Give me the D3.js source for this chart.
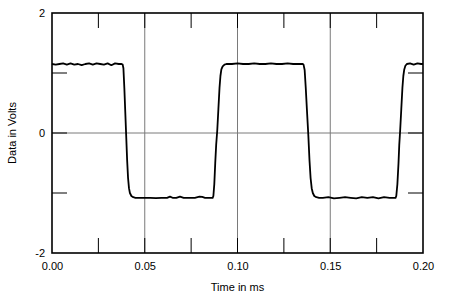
<!DOCTYPE html>
<html>
<head>
<meta charset="utf-8">
<script src="https://cdn.jsdelivr.net/npm/d3@7"></script>
<style>
  body { margin: 0; background: #fff; }
  svg { display: block; font-family: "Liberation Sans", Arial, sans-serif; }
</style>
</head>
<body>
<div id="chart"></div>
<script>
const width = 450;
const height = 305;
const MARGIN = { TOP: 13, RIGHT: 27, BOTTOM: 52, LEFT: 52 };

// tick values
const xMajorTicks = [0, 0.05, 0.10, 0.15, 0.20];
const xMinorTicks = [0.025, 0.075, 0.125, 0.175];
const yLabelTicks = [-2, 0, 2];
const yMinorTicks = [-1, 1];

const timeMs = [
  0, 0.002, 0.004, 0.006, 0.008, 0.010, 0.012, 0.014, 0.016, 0.018,
  0.020, 0.022, 0.024, 0.026, 0.028, 0.030, 0.032, 0.034, 0.036, 0.0375,
  0.0381, 0.0385, 0.0390, 0.0395, 0.0400, 0.0405, 0.0410, 0.0415, 0.0420, 0.0428, 0.0438, 0.0450,
  0.047, 0.050, 0.053, 0.056, 0.059, 0.062, 0.0636, 0.065, 0.067, 0.069,
  0.071, 0.074, 0.077, 0.0795, 0.081, 0.0825, 0.085, 0.0866,
  0.0870, 0.0875, 0.0880, 0.0885, 0.0891, 0.0897, 0.0903, 0.0908, 0.0913, 0.0920, 0.0930, 0.0940,
  0.097, 0.100, 0.103, 0.106, 0.109, 0.112, 0.115, 0.118, 0.121, 0.124, 0.127, 0.130, 0.133, 0.1352,
  0.1356, 0.1362, 0.1368, 0.1374, 0.1382, 0.1388, 0.1394, 0.1400, 0.1406, 0.1414, 0.1425, 0.1440,
  0.146, 0.149, 0.152, 0.155, 0.158, 0.161, 0.164, 0.167, 0.170, 0.173, 0.176, 0.179, 0.182, 0.1852,
  0.1856, 0.1862, 0.1868, 0.1872, 0.1877, 0.1883, 0.1889, 0.1894, 0.1899, 0.1905, 0.1913,
  0.193, 0.195, 0.197, 0.199, 0.200
];
const volts = [
  1.15, 1.14, 1.15, 1.16, 1.14, 1.16, 1.14, 1.15, 1.13, 1.15,
  1.16, 1.14, 1.16, 1.15, 1.14, 1.16, 1.13, 1.16, 1.15, 1.15,
  1.14, 1.08, 0.75, 0.35, -0.05, -0.45, -0.75, -0.92, -1.00, -1.05, -1.07, -1.08,
  -1.08, -1.08, -1.08, -1.085, -1.08, -1.08, -1.06, -1.08, -1.08, -1.06,
  -1.08, -1.08, -1.08, -1.06, -1.065, -1.08, -1.08, -1.08,
  -1.05, -0.85, -0.5, -0.2, 0.05, 0.4, 0.75, 0.95, 1.06, 1.11, 1.14, 1.15,
  1.15, 1.16, 1.15, 1.15, 1.16, 1.15, 1.15, 1.16, 1.15, 1.15, 1.16, 1.15, 1.15, 1.15,
  1.14, 1.05, 0.75, 0.4, -0.05, -0.45, -0.75, -0.92, -1.00, -1.05, -1.07, -1.08,
  -1.08, -1.07, -1.09, -1.08, -1.07, -1.08, -1.09, -1.07, -1.08, -1.07, -1.09, -1.07, -1.08, -1.08,
  -1.05, -0.85, -0.5, -0.2, 0.05, 0.4, 0.75, 0.95, 1.06, 1.12, 1.15,
  1.16, 1.14, 1.16, 1.15, 1.15
];

const innerW = width - MARGIN.LEFT - MARGIN.RIGHT;
const innerH = height - MARGIN.TOP - MARGIN.BOTTOM;

const svgRoot = d3.select("#chart")
  .append("svg")
  .attr("width", width)
  .attr("height", height);

const svg = svgRoot.append("g")
  .attr("transform", "translate(" + MARGIN.LEFT + "," + MARGIN.TOP + ")");

const x = d3.scaleLinear().domain([0, 0.2]).range([0, innerW]);
const y = d3.scaleLinear().domain([-2, 2]).range([innerH, 0]);

// grid lines (grey)
svg.append("g")
  .selectAll("line.vgrid")
  .data(xMajorTicks.slice(1, -1))
  .join("line")
  .attr("x1", d => x(d)).attr("x2", d => x(d))
  .attr("y1", 0).attr("y2", innerH)
  .attr("stroke", "#7a7a7a").attr("stroke-width", 1);

svg.append("g")
  .append("line")
  .attr("x1", 0).attr("x2", innerW)
  .attr("y1", y(0)).attr("y2", y(0))
  .attr("stroke", "#7a7a7a").attr("stroke-width", 1);

// inward tick marks (black) on all four sides
const TICK = 15;
const ticks = svg.append("g").attr("stroke", "#000").attr("stroke-width", 1);
const xTickVals = xMajorTicks.slice(1, -1).concat(xMinorTicks);
ticks.selectAll("line.xb").data(xTickVals).join("line")
  .attr("x1", d => x(d)).attr("x2", d => x(d))
  .attr("y1", innerH).attr("y2", innerH - TICK);
ticks.selectAll("line.xt").data(xTickVals).join("line")
  .attr("x1", d => x(d)).attr("x2", d => x(d))
  .attr("y1", 0).attr("y2", TICK);
const yTickVals = [0].concat(yMinorTicks);
ticks.selectAll("line.yl").data(yTickVals).join("line")
  .attr("x1", 0).attr("x2", TICK)
  .attr("y1", d => y(d)).attr("y2", d => y(d));
ticks.selectAll("line.yr").data(yTickVals).join("line")
  .attr("x1", innerW).attr("x2", innerW - TICK)
  .attr("y1", d => y(d)).attr("y2", d => y(d));

// trace
const points = timeMs.map((t, i) => [t, volts[i]]);
svg.append("path")
  .datum(points)
  .attr("fill", "none")
  .attr("stroke", "#000")
  .attr("stroke-width", 1.8)
  .attr("stroke-linejoin", "round")
  .attr("d", d3.line().x(d => x(d[0])).y(d => y(d[1])));

// frame
svg.append("rect")
  .attr("x", 0).attr("y", 0)
  .attr("width", innerW).attr("height", innerH)
  .attr("fill", "none")
  .attr("stroke", "#000")
  .attr("stroke-width", 1.6);

// tick labels via d3 axes
const xAxis = svg.append("g")
  .attr("transform", "translate(0," + innerH + ")")
  .call(d3.axisBottom(x).tickValues(xMajorTicks).tickFormat(d3.format(".2f")).tickSize(0).tickPadding(9));
const yAxis = svg.append("g")
  .call(d3.axisLeft(y).tickValues(yLabelTicks).tickFormat(d => d).tickSize(0).tickPadding(7));
[xAxis, yAxis].forEach(a => {
  a.select(".domain").remove();
  a.selectAll("text")
    .attr("fill", "#000")
    .style("font-size", "11px")
    .style("font-family", "\"Liberation Sans\", Arial, sans-serif");
});

// axis titles
svgRoot.append("text")
  .attr("x", MARGIN.LEFT + innerW / 2)
  .attr("y", 291)
  .attr("text-anchor", "middle")
  .style("font-size", "11px")
  .text("Time in ms");

svgRoot.append("text")
  .attr("transform", "translate(16," + (MARGIN.TOP + innerH / 2) + ") rotate(-90)")
  .attr("text-anchor", "middle")
  .style("font-size", "11px")
  .text("Data in Volts");
</script>
</body>
</html>
